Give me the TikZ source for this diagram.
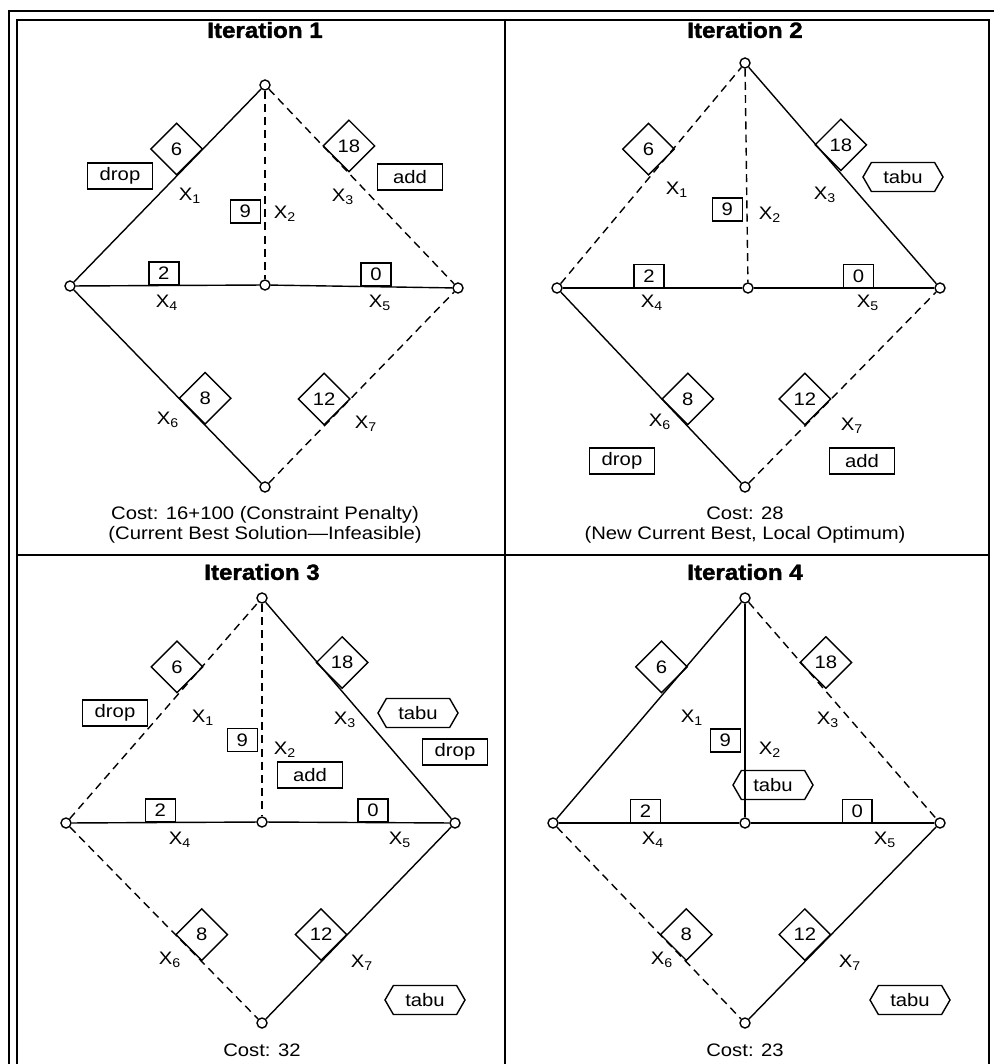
\documentclass[tikz,border=0pt]{standalone}
\usepackage{fontspec}
\setmainfont{Liberation Sans}[FakeStretch=1.12]
\newfontfamily\heavyfont{Liberation Sans Bold}[FakeStretch=1.1,FakeBold=1.6]
\usetikzlibrary{shapes.geometric,shapes.symbols}

\tikzset{
  vtx/.style={circle,draw,fill=white,inner sep=0pt,minimum size=0.2cm},
  wdia/.style={diamond,draw,solid,aspect=1,inner sep=0pt,minimum size=1.04cm},
  wbox/.style={rectangle,draw,solid,inner sep=0pt,minimum width=0.6cm,minimum height=0.46cm},
  vbox/.style={wbox,anchor=east,xshift=-0.08cm},
  movebox/.style={rectangle,draw,inner sep=0pt,minimum width=1.3cm,minimum height=0.52cm},
  tabubox/.style={signal,signal to=west and east,signal pointer angle=120,draw,inner sep=0pt,minimum width=1.6cm,minimum height=0.58cm},
  unused/.style={dash pattern=on 4.5pt off 3pt},
  ttl/.style={font=\heavyfont\fontsize{12.5}{14}\selectfont},
}

\begin{document}
\begin{tikzpicture}[x=0.02cm,y=-0.02cm,line width=0.8pt,font=\fontsize{10.3}{11.5}\selectfont]
\useasboundingbox (0,0) rectangle (994,1064);
% frame
\draw[line width=1.2pt] (9,1064) -- (9,11) -- (994,11);
\draw (17,1064) -- (17,20) -- (989,20) -- (989,1064);
\draw (505,20) -- (505,1064) (17,555) -- (989,555);

% Iteration 1
\node[ttl] (t1) at (265,30) {Iteration 1};
\node[vtx] (T1) at (265,85) {};
\node[vtx] (L1) at (70,286) {};
\node[vtx] (C1) at (265,285) {};
\node[vtx] (R1) at (458,288) {};
\node[vtx] (B1) at (265,487) {};
\draw (L1) -- node[wdia,pos=.62,anchor=south east] {6} (T1);
\draw[unused] (T1) -- node[vbox,pos=.64] {9} (C1);
\draw[unused] (T1) -- node[wdia,pos=.36,anchor=south west] {18} (R1);
\draw (L1) -- node[wbox,pos=.48,anchor=south] {2} (C1);
\draw (C1) -- node[wbox,pos=.58,anchor=south] {0} (R1);
\draw (L1) -- node[wdia,pos=.63,anchor=south west] {8} (B1);
\draw[unused] (B1) -- node[wdia,pos=.37,anchor=south east] {12} (R1);
\node (x11) at (190,196) {X\textsubscript{1}};
\node (x12) at (285,214) {X\textsubscript{2}};
\node (x13) at (343,197) {X\textsubscript{3}};
\node (x14) at (167,303) {X\textsubscript{4}};
\node (x15) at (380,303) {X\textsubscript{5}};
\node (x16) at (168,420) {X\textsubscript{6}};
\node (x17) at (366,424) {X\textsubscript{7}};
\node[movebox] (m11) at (120,176) {drop};
\node[movebox] (m12) at (410,177) {add};
\node[align=center] (c1) at (265,525) {Cost: 16+100 (Constraint Penalty)\\(Current Best Solution—Infeasible)};

% Iteration 2
\node[ttl] (t2) at (745,30) {Iteration 2};
\node[vtx] (T2) at (745,63) {};
\node[vtx] (L2) at (557,288) {};
\node[vtx] (C2) at (748,288) {};
\node[vtx] (R2) at (940,288) {};
\node[vtx] (B2) at (745,487) {};
\draw[unused] (L2) -- node[wdia,pos=.56,anchor=south east] {6} (T2);
\draw[unused] (T2) -- node[vbox,pos=.66] {9} (C2);
\draw (T2) -- node[wdia,pos=.42,anchor=south west] {18} (R2);
\draw (L2) -- node[wbox,pos=.48,anchor=south] {2} (C2);
\draw (C2) -- node[wbox,pos=.58,anchor=south] {0} (R2);
\draw (L2) -- node[wdia,pos=.63,anchor=south west] {8} (B2);
\draw[unused] (B2) -- node[wdia,pos=.37,anchor=south east] {12} (R2);
\node (x21) at (677,190) {X\textsubscript{1}};
\node (x22) at (770,215) {X\textsubscript{2}};
\node (x23) at (825,195) {X\textsubscript{3}};
\node (x24) at (652,303) {X\textsubscript{4}};
\node (x25) at (868,303) {X\textsubscript{5}};
\node (x26) at (660,422) {X\textsubscript{6}};
\node (x27) at (852,426) {X\textsubscript{7}};
\node[tabubox] (m21) at (903,177) {tabu};
\node[movebox] (m22) at (622,461) {drop};
\node[movebox] (m23) at (862,461) {add};
\node[align=center] (c2) at (745,525) {Cost: 28\\(New Current Best, Local Optimum)};

% Iteration 3
\node[ttl] (t3) at (262,572) {Iteration 3};
\node[vtx] (T3) at (262,598) {};
\node[vtx] (L3) at (66,823) {};
\node[vtx] (C3) at (262,822) {};
\node[vtx] (R3) at (455,823) {};
\node[vtx] (B3) at (262,1023) {};
\draw[unused] (L3) -- node[wdia,pos=.64,anchor=south east] {6} (T3);
\draw[unused] (T3) -- node[vbox,pos=.64] {9} (C3);
\draw (T3) -- node[wdia,pos=.34,anchor=south west] {18} (R3);
\draw (L3) -- node[wbox,pos=.48,anchor=south] {2} (C3);
\draw (C3) -- node[wbox,pos=.58,anchor=south] {0} (R3);
\draw[unused] (L3) -- node[wdia,pos=.63,anchor=south west] {8} (B3);
\draw (B3) -- node[wdia,pos=.37,anchor=south east] {12} (R3);
\node (x31) at (203,718) {X\textsubscript{1}};
\node (x32) at (285,750) {X\textsubscript{2}};
\node (x33) at (345,720) {X\textsubscript{3}};
\node (x34) at (180,840) {X\textsubscript{4}};
\node (x35) at (400,840) {X\textsubscript{5}};
\node (x36) at (170,960) {X\textsubscript{6}};
\node (x37) at (362,963) {X\textsubscript{7}};
\node[movebox] (m31) at (115,713) {drop};
\node[tabubox] (m32) at (418,713) {tabu};
\node[movebox] (m33) at (455,752) {drop};
\node[movebox] (m34) at (310,775) {add};
\node[tabubox] (m35) at (425,1000) {tabu};
\node (c3) at (262,1050) {Cost: 32};

% Iteration 4
\node[ttl] (t4) at (745,572) {Iteration 4};
\node[vtx] (T4) at (745,598) {};
\node[vtx] (L4) at (553,823) {};
\node[vtx] (C4) at (745,823) {};
\node[vtx] (R4) at (940,823) {};
\node[vtx] (B4) at (745,1023) {};
\draw (L4) -- node[wdia,pos=.64,anchor=south east] {6} (T4);
\draw (T4) -- node[vbox,pos=.64] {9} (C4);
\draw[unused] (T4) -- node[wdia,pos=.34,anchor=south west] {18} (R4);
\draw (L4) -- node[wbox,pos=.48,anchor=south] {2} (C4);
\draw (C4) -- node[wbox,pos=.58,anchor=south] {0} (R4);
\draw[unused] (L4) -- node[wdia,pos=.63,anchor=south west] {8} (B4);
\draw (B4) -- node[wdia,pos=.37,anchor=south east] {12} (R4);
\node (x41) at (692,718) {X\textsubscript{1}};
\node (x42) at (770,750) {X\textsubscript{2}};
\node (x43) at (828,720) {X\textsubscript{3}};
\node (x44) at (653,840) {X\textsubscript{4}};
\node (x45) at (885,840) {X\textsubscript{5}};
\node (x46) at (662,960) {X\textsubscript{6}};
\node (x47) at (850,963) {X\textsubscript{7}};
\node[tabubox] (m41) at (773,785) {tabu};
\node[tabubox] (m42) at (910,1000) {tabu};
\node (c4) at (745,1050) {Cost: 23};
\end{tikzpicture}
\end{document}
